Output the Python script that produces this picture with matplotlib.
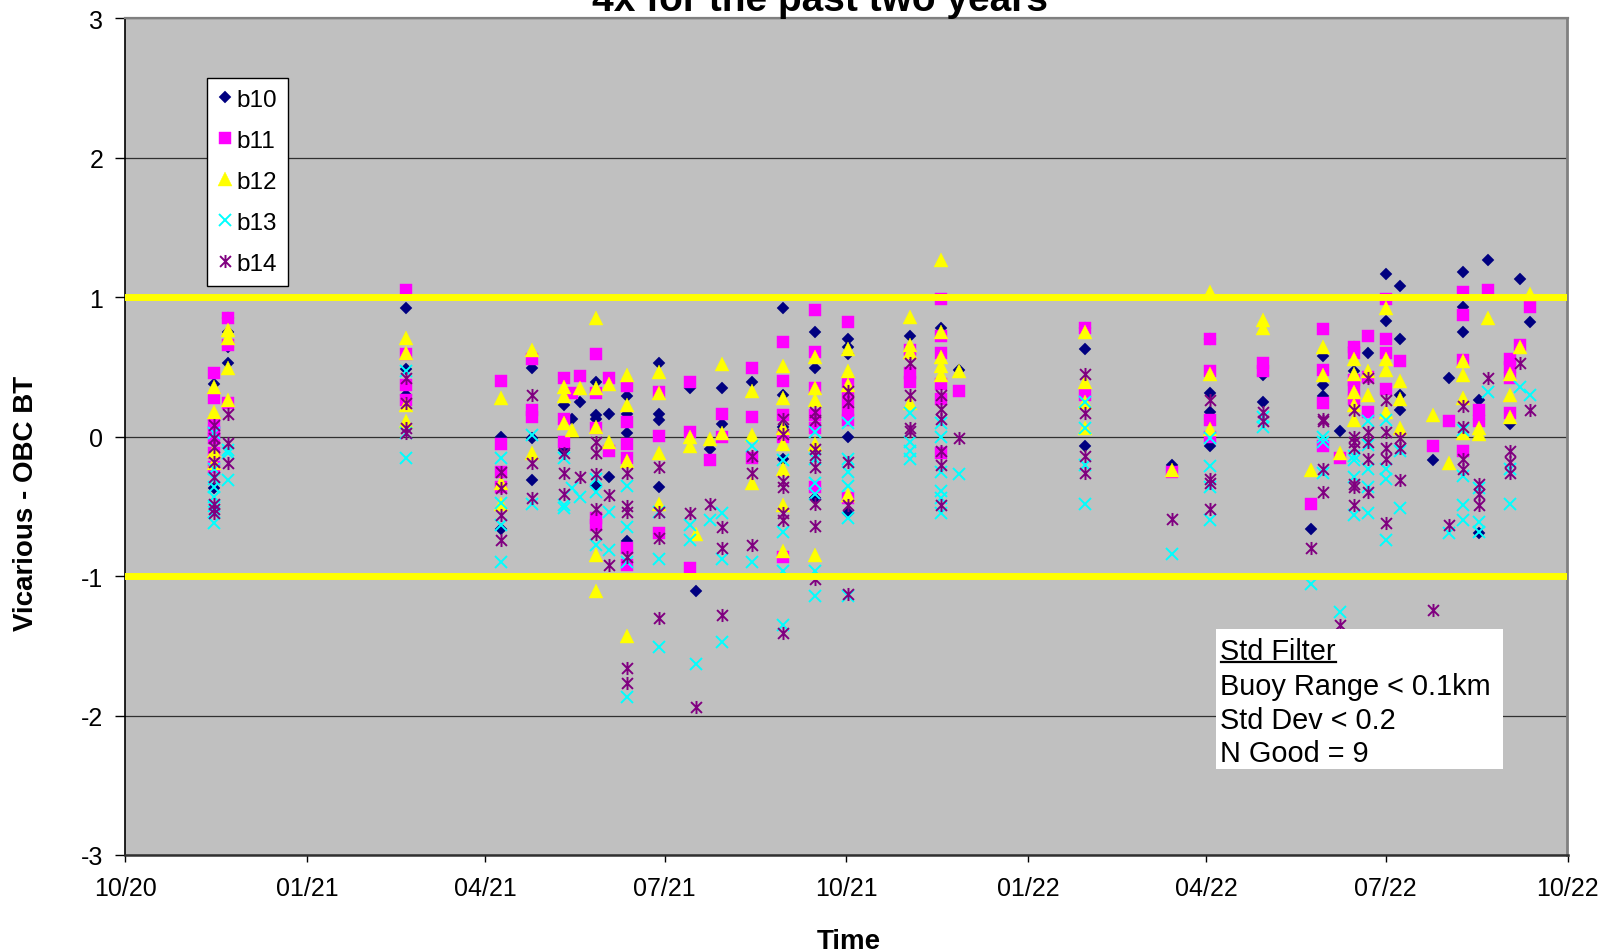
import matplotlib
matplotlib.use("Agg")
import matplotlib.pyplot as plt
import matplotlib.dates as mdates
from matplotlib.path import Path
from matplotlib.patches import Rectangle
from matplotlib.lines import Line2D
import pandas as pd

plt.rcParams['font.family'] = ['Liberation Sans', 'DejaVu Sans']
plt.rcParams['axes.unicode_minus'] = False

# ---------------------------------------------------------------- data
title = "4x for the past two years"
x_label = "Time"
y_label = "Vicarious - OBC BT"
band_names = ["b10", "b11", "b12", "b13", "b14"]
tick_dates = pd.date_range("2020-10-01", "2022-10-01", freq="3MS")
y_ticks = [-3, -2, -1, 0, 1, 2, 3]
limit_levels = [1, -1]
filter_lines = ["Std Filter", "Buoy Range < 0.1km", "Std Dev < 0.2", "N Good = 9"]

# Vicarious minus on-board-calibrator brightness temperature, per overpass date
b10 = [
    ("2020-11-15", [0.38, 0.12, -0.37]),
    ("2020-11-22", [0.85, 0.75, 0.645, 0.526]),
    ("2021-02-20", [0.92, 0.485, 0.30]),
    ("2021-04-09", [0.0, -0.66]),
    ("2021-04-25", [0.49, -0.01, -0.31]),
    ("2021-05-11", [0.23, -0.095]),
    ("2021-05-15", [0.13]),
    ("2021-05-19", [0.25]),
    ("2021-05-27", [0.39, 0.156, 0.13, -0.35]),
    ("2021-06-03", [0.16, -0.29]),
    ("2021-06-12", [0.293, 0.16, 0.03, -0.75]),
    ("2021-06-28", [0.526, 0.16, 0.12, -0.36]),
    ("2021-07-14", [0.35]),
    ("2021-07-17", [-1.11]),
    ("2021-07-24", [-0.09]),
    ("2021-07-30", [0.35, 0.088]),
    ("2021-08-14", [0.39]),
    ("2021-08-30", [0.925, 0.30, 0.07, -0.16]),
    ("2021-09-15", [0.75, 0.495, -0.44]),
    ("2021-10-02", [0.70, 0.64, 0.59, 0.0, -0.55]),
    ("2021-11-02", [0.72, 0.59]),
    ("2021-11-18", [0.78]),
    ("2021-11-27", [0.48]),
    ("2022-01-30", [0.78, 0.63, -0.065]),
    ("2022-03-15", [-0.20]),
    ("2022-04-03", [0.70, 0.31, 0.18, -0.07]),
    ("2022-04-30", [0.44, 0.25]),
    ("2022-05-24", [-0.66]),
    ("2022-05-30", [0.58, 0.37, 0.29]),
    ("2022-06-08", [0.04]),
    ("2022-06-15", [0.645, 0.47, 0.30]),
    ("2022-06-22", [0.60]),
    ("2022-07-01", [1.17, 0.83]),
    ("2022-07-08", [1.08, 0.70, 0.30, 0.19]),
    ("2022-07-25", [-0.17]),
    ("2022-08-02", [0.42]),
    ("2022-08-09", [1.18, 0.93, 0.75]),
    ("2022-08-17", [0.26, 0.13, -0.69]),
    ("2022-08-22", [1.27]),
    ("2022-09-02", [0.09]),
    ("2022-09-07", [1.13]),
    ("2022-09-12", [0.82]),
]

b11 = [
    ("2020-11-15", [0.454, 0.28, 0.095, 0.036, -0.012, -0.12, -0.215]),
    ("2020-11-22", [0.85, 0.66, 0.24]),
    ("2021-02-20", [1.05, 0.59, 0.37, 0.26]),
    ("2021-04-09", [0.40, -0.05, -0.25, -0.36]),
    ("2021-04-25", [0.56, 0.19, 0.14]),
    ("2021-05-11", [0.42, 0.13, -0.035]),
    ("2021-05-15", [0.31]),
    ("2021-05-19", [0.435]),
    ("2021-05-27", [0.59, 0.31, 0.06, -0.585, -0.63]),
    ("2021-06-03", [0.42, -0.10]),
    ("2021-06-12", [0.365, 0.107, -0.05, -0.15, -0.80, -0.92]),
    ("2021-06-28", [0.32, 0.007, -0.69]),
    ("2021-07-14", [0.39, 0.036, -0.94]),
    ("2021-07-24", [-0.17]),
    ("2021-07-30", [0.16, 0.0]),
    ("2021-08-14", [0.49, 0.14, -0.155]),
    ("2021-08-30", [0.68, 0.40, 0.155, 0.0, -0.86]),
    ("2021-09-15", [0.91, 0.61, 0.35, 0.155, 0.06, -0.36]),
    ("2021-10-02", [0.82, 0.39, 0.28, 0.19, 0.12, -0.44]),
    ("2021-11-02", [0.62, 0.455, 0.39]),
    ("2021-11-18", [0.99, 0.72, 0.60, 0.38, 0.27, -0.12]),
    ("2021-11-27", [0.33]),
    ("2022-01-30", [0.78, 0.30]),
    ("2022-03-15", [-0.25]),
    ("2022-04-03", [0.70, 0.47, 0.12, 0.0]),
    ("2022-04-30", [0.53, 0.47]),
    ("2022-05-24", [-0.48]),
    ("2022-05-30", [0.77, 0.48, 0.24, -0.07]),
    ("2022-06-08", [-0.15]),
    ("2022-06-15", [0.645, 0.60, 0.41, 0.36, 0.27]),
    ("2022-06-22", [0.72, 0.43, 0.18]),
    ("2022-07-01", [0.99, 0.70, 0.60, 0.34]),
    ("2022-07-08", [0.54]),
    ("2022-07-25", [-0.07]),
    ("2022-08-02", [0.11]),
    ("2022-08-09", [1.04, 0.87, 0.55, -0.10]),
    ("2022-08-17", [0.19, 0.11]),
    ("2022-08-22", [1.05]),
    ("2022-09-02", [0.56, 0.50, 0.42, 0.17]),
    ("2022-09-07", [0.66]),
    ("2022-09-12", [0.93]),
]

b12 = [
    ("2020-11-15", [0.359, 0.18, -0.10, -0.19]),
    ("2020-11-22", [0.765, 0.705, 0.49, 0.26]),
    ("2021-02-20", [0.71, 0.60, 0.23, 0.11]),
    ("2021-04-09", [0.28, -0.33, -0.48]),
    ("2021-04-25", [0.62, -0.12]),
    ("2021-05-11", [0.36, 0.29, 0.095]),
    ("2021-05-15", [0.05]),
    ("2021-05-19", [0.35]),
    ("2021-05-27", [0.85, 0.35, 0.07, -0.85, -1.11]),
    ("2021-06-03", [0.38, -0.035]),
    ("2021-06-12", [0.44, 0.225, -0.175, -1.43]),
    ("2021-06-28", [0.466, 0.31, -0.12, -0.48]),
    ("2021-07-14", [0.0, -0.07]),
    ("2021-07-17", [-0.70]),
    ("2021-07-24", [-0.02]),
    ("2021-07-30", [0.52, 0.03]),
    ("2021-08-14", [0.33, 0.015, -0.335]),
    ("2021-08-30", [0.51, 0.28, 0.06, -0.05, -0.23, -0.49, -0.82]),
    ("2021-09-15", [0.57, 0.35, 0.26, -0.05, -0.85]),
    ("2021-10-02", [0.63, 0.47, 0.37, -0.42]),
    ("2021-11-02", [0.86, 0.66, 0.61, 0.24]),
    ("2021-11-18", [1.27, 0.75, 0.57, 0.51, 0.44]),
    ("2021-11-27", [0.47]),
    ("2022-01-30", [0.75, 0.39, 0.25, 0.06]),
    ("2022-03-15", [-0.24]),
    ("2022-04-03", [1.04, 0.45, 0.055]),
    ("2022-04-30", [0.84, 0.78]),
    ("2022-05-24", [-0.24]),
    ("2022-05-30", [0.645, 0.44]),
    ("2022-06-08", [-0.12]),
    ("2022-06-15", [0.56, 0.45, 0.32, 0.23, 0.12]),
    ("2022-06-22", [0.47, 0.30]),
    ("2022-07-01", [0.92, 0.56, 0.48, 0.18]),
    ("2022-07-08", [0.40, 0.27, 0.06]),
    ("2022-07-25", [0.155]),
    ("2022-08-02", [-0.19]),
    ("2022-08-09", [0.54, 0.44, 0.28, 0.03]),
    ("2022-08-17", [0.065, 0.02]),
    ("2022-08-22", [0.85]),
    ("2022-09-02", [0.45, 0.30, 0.14]),
    ("2022-09-07", [0.645]),
    ("2022-09-12", [1.02]),
]

b13 = [
    ("2020-11-15", [0.024, -0.23, -0.30, -0.36, -0.43, -0.50, -0.54, -0.62]),
    ("2020-11-22", [-0.096, -0.12, -0.31]),
    ("2021-02-20", [0.47, 0.025, -0.156]),
    ("2021-04-09", [-0.156, -0.478, -0.63, -0.90]),
    ("2021-04-25", [0.01, -0.48]),
    ("2021-05-11", [-0.155, -0.49, -0.51]),
    ("2021-05-15", [-0.37]),
    ("2021-05-19", [-0.43]),
    ("2021-05-27", [-0.30, -0.395, -0.78]),
    ("2021-06-03", [-0.54, -0.81]),
    ("2021-06-12", [-0.35, -0.65, -0.90, -1.87]),
    ("2021-06-28", [-0.54, -0.88, -1.51]),
    ("2021-07-14", [-0.63, -0.74]),
    ("2021-07-17", [-1.63]),
    ("2021-07-24", [-0.60]),
    ("2021-07-30", [-0.55, -0.88, -1.47]),
    ("2021-08-14", [-0.07, -0.90]),
    ("2021-08-30", [-0.17, -0.68, -0.96, -1.35]),
    ("2021-09-15", [0.035, -0.16, -0.33, -0.41, -0.96, -1.14]),
    ("2021-10-02", [0.095, -0.16, -0.25, -0.35, -0.58, -1.14]),
    ("2021-11-02", [0.17, -0.04, -0.10, -0.16]),
    ("2021-11-18", [0.095, 0.0, -0.25, -0.39, -0.44, -0.55]),
    ("2021-11-27", [-0.27]),
    ("2022-01-30", [0.25, 0.06, -0.20, -0.48]),
    ("2022-03-15", [-0.84]),
    ("2022-04-03", [-0.01, -0.21, -0.36, -0.60]),
    ("2022-04-30", [0.14, 0.07]),
    ("2022-05-24", [-1.06]),
    ("2022-05-30", [0.0, -0.04, -0.26]),
    ("2022-06-08", [-1.26]),
    ("2022-06-15", [-0.14, -0.17, -0.29, -0.56]),
    ("2022-06-22", [0.11, -0.06, -0.23, -0.36, -0.55]),
    ("2022-07-01", [0.12, -0.23, -0.30, -0.74]),
    ("2022-07-08", [-0.10, -0.51]),
    ("2022-08-02", [-0.69]),
    ("2022-08-09", [0.05, -0.28, -0.49, -0.60]),
    ("2022-08-17", [-0.37, -0.61, -0.68]),
    ("2022-08-22", [0.32]),
    ("2022-09-02", [-0.23, -0.48]),
    ("2022-09-07", [0.36]),
    ("2022-09-12", [0.30]),
]

b14 = [
    ("2020-11-15", [0.083, -0.012, -0.072, -0.18, -0.287, -0.48, -0.52, -0.55]),
    ("2020-11-22", [0.16, -0.048, -0.19]),
    ("2021-02-20", [0.42, 0.24, 0.06, 0.025]),
    ("2021-04-09", [-0.25, -0.366, -0.56, -0.74]),
    ("2021-04-25", [0.30, -0.19, -0.44]),
    ("2021-05-11", [-0.12, -0.26, -0.41]),
    ("2021-05-19", [-0.29]),
    ("2021-05-27", [-0.035, -0.12, -0.27, -0.515, -0.70]),
    ("2021-06-03", [-0.415, -0.92]),
    ("2021-06-12", [-0.26, -0.50, -0.54, -0.86, -1.66, -1.77]),
    ("2021-06-28", [-0.22, -0.54, -0.73, -1.30]),
    ("2021-07-14", [-0.55]),
    ("2021-07-17", [-1.94]),
    ("2021-07-24", [-0.485]),
    ("2021-07-30", [-0.65, -0.80, -1.28]),
    ("2021-08-14", [-0.14, -0.26, -0.78]),
    ("2021-08-30", [0.13, 0.02, -0.32, -0.36, -0.55, -0.60, -1.41]),
    ("2021-09-15", [0.18, 0.12, -0.09, -0.13, -0.22, -0.48, -0.64, -1.02]),
    ("2021-10-02", [0.33, 0.25, -0.18, -0.49, -1.13]),
    ("2021-11-02", [0.53, 0.30, 0.06, 0.04]),
    ("2021-11-18", [0.30, 0.20, 0.13, -0.10, -0.20, -0.49]),
    ("2021-11-27", [-0.01]),
    ("2022-01-30", [0.45, 0.17, -0.14, -0.26]),
    ("2022-03-15", [-0.59]),
    ("2022-04-03", [0.26, -0.30, -0.33, -0.52]),
    ("2022-04-30", [0.18, 0.11]),
    ("2022-05-24", [-0.80]),
    ("2022-05-30", [0.13, 0.11, -0.23, -0.40]),
    ("2022-06-08", [-1.35]),
    ("2022-06-15", [0.19, 0.0, -0.04, -0.08, -0.34, -0.36, -0.49]),
    ("2022-06-22", [0.42, 0.036, -0.04, -0.16, -0.40]),
    ("2022-07-01", [0.26, 0.036, -0.08, -0.16, -0.62]),
    ("2022-07-08", [-0.01, -0.08, -0.31]),
    ("2022-07-25", [-1.24]),
    ("2022-08-02", [-0.63]),
    ("2022-08-09", [0.22, 0.07, -0.16, -0.23]),
    ("2022-08-17", [-0.34, -0.41, -0.49]),
    ("2022-08-22", [0.42]),
    ("2022-09-02", [-0.10, -0.18, -0.26]),
    ("2022-09-07", [0.53]),
    ("2022-09-12", [0.19]),
]


def flatten(groups):
    xs, ys = [], []
    for day, values in groups:
        for v in values:
            xs.append(pd.Timestamp(day))
            ys.append(v)
    return xs, ys


# asterisk marker: an "x" with a vertical stroke through it
asterisk = Path([(-1, -1), (1, 1), (-1, 1), (1, -1), (0, -1.2), (0, 1.2)],
                [Path.MOVETO, Path.LINETO] * 3)

styles = [
    dict(marker="D", ms=6.0, color="#000080", mec="#000080", mew=0.3),
    dict(marker="s", ms=8.6, color="#FF00FF", mec="#FF00FF", mew=0.3),
    dict(marker="^", ms=9.4, color="#FFFF00", mec="#FFFF00", mew=0.3),
    dict(marker="x", ms=8.8, color="#00FFFF", mec="#00FFFF", mew=1.4),
    dict(marker=asterisk, ms=9.4, color="#800080", mec="#800080", mfc="none", mew=1.4),
]

# ---------------------------------------------------------------- figure
W, H = 1598, 953
fig = plt.figure(figsize=(W / 100, H / 100), dpi=100)
fig.patch.set_facecolor("white")

left, right, top, bottom = 125.4, 1567.5, 19.4, 856.0
ax = fig.add_axes([left / W, 1 - bottom / H, (right - left) / W, (bottom - top) / H])
ax.set_facecolor("#C0C0C0")

handles = []
for z, (name, groups, st) in enumerate(zip(band_names, [b10, b11, b12, b13, b14], styles)):
    xs, ys = flatten(groups)
    h, = ax.plot(xs, ys, linestyle="none", label=name, zorder=3 + z, **st)
    handles.append(h)

for lvl in limit_levels:
    ax.axhline(lvl, color="#FFFF00", lw=5.0, zorder=10)

ax.set_xlim(tick_dates[0], tick_dates[-1])
ax.set_ylim(y_ticks[0], y_ticks[-1])
ax.set_xticks(tick_dates)
ax.xaxis.set_major_formatter(mdates.DateFormatter("%m/%y"))
ax.set_yticks(y_ticks)

ax.yaxis.grid(True, color="#303030", lw=0.9)
ax.set_axisbelow(True)

ax.tick_params(axis="y", direction="out", length=7, width=1, pad=9, labelsize=18, color="#000000")
ax.tick_params(axis="x", direction="out", length=5, width=1, pad=10, labelsize=18, color="#000000")

ax.spines["left"].set_color("#000000")
ax.spines["left"].set_linewidth(1.2)
ax.spines["bottom"].set_color("#303030")
ax.spines["bottom"].set_linewidth(1.8)
ax.spines["top"].set_color("#808080")
ax.spines["top"].set_linewidth(1.6)
ax.spines["right"].set_color("#808080")
ax.spines["right"].set_linewidth(2.0)

ax.set_xlabel(x_label, fontsize=20, fontweight="bold")
ax.xaxis.set_label_coords((849 - left) / (right - left), -(929 - bottom) / (bottom - top))
ax.set_ylabel(y_label, fontsize=20, fontweight="bold")
ax.yaxis.set_label_coords((39 - left) / (right - left), (bottom - 503.5) / (bottom - top))

fig.text(820 / W, 1 - 11 / H, title, ha="center", va="baseline",
         fontsize=28, fontweight="bold")

leg = ax.legend(handles=handles, loc="upper left",
                bbox_to_anchor=(207 / W, 1 - 79 / H), bbox_transform=fig.transFigure,
                borderaxespad=0, fontsize=17.5, numpoints=1, fancybox=False,
                framealpha=1, edgecolor="#000000", borderpad=0.45,
                handlelength=0.55, handletextpad=0.2, labelspacing=0.78)
leg.get_frame().set_linewidth(1.0)
leg.set_zorder(20)

# filter annotation box
box = Rectangle((1216 / W, 1 - 770 / H), 287 / W, 140 / H, transform=fig.transFigure,
                facecolor="white", edgecolor="none", zorder=30)
fig.add_artist(box)
baselines = [660, 695, 729, 762]
texts = []
for line, yb in zip(filter_lines, baselines):
    t = fig.text(1220.5 / W, 1 - yb / H, line, ha="left", va="baseline",
                 fontsize=20.8, zorder=31)
    texts.append(t)

fig.canvas.draw()
bb = texts[0].get_window_extent()
fig.add_artist(Line2D([bb.x0 / W, bb.x1 / W], [1 - 662.5 / H, 1 - 662.5 / H],
                      transform=fig.transFigure, color="black", lw=1.6, zorder=32))

fig.savefig("out.png", dpi=100)
